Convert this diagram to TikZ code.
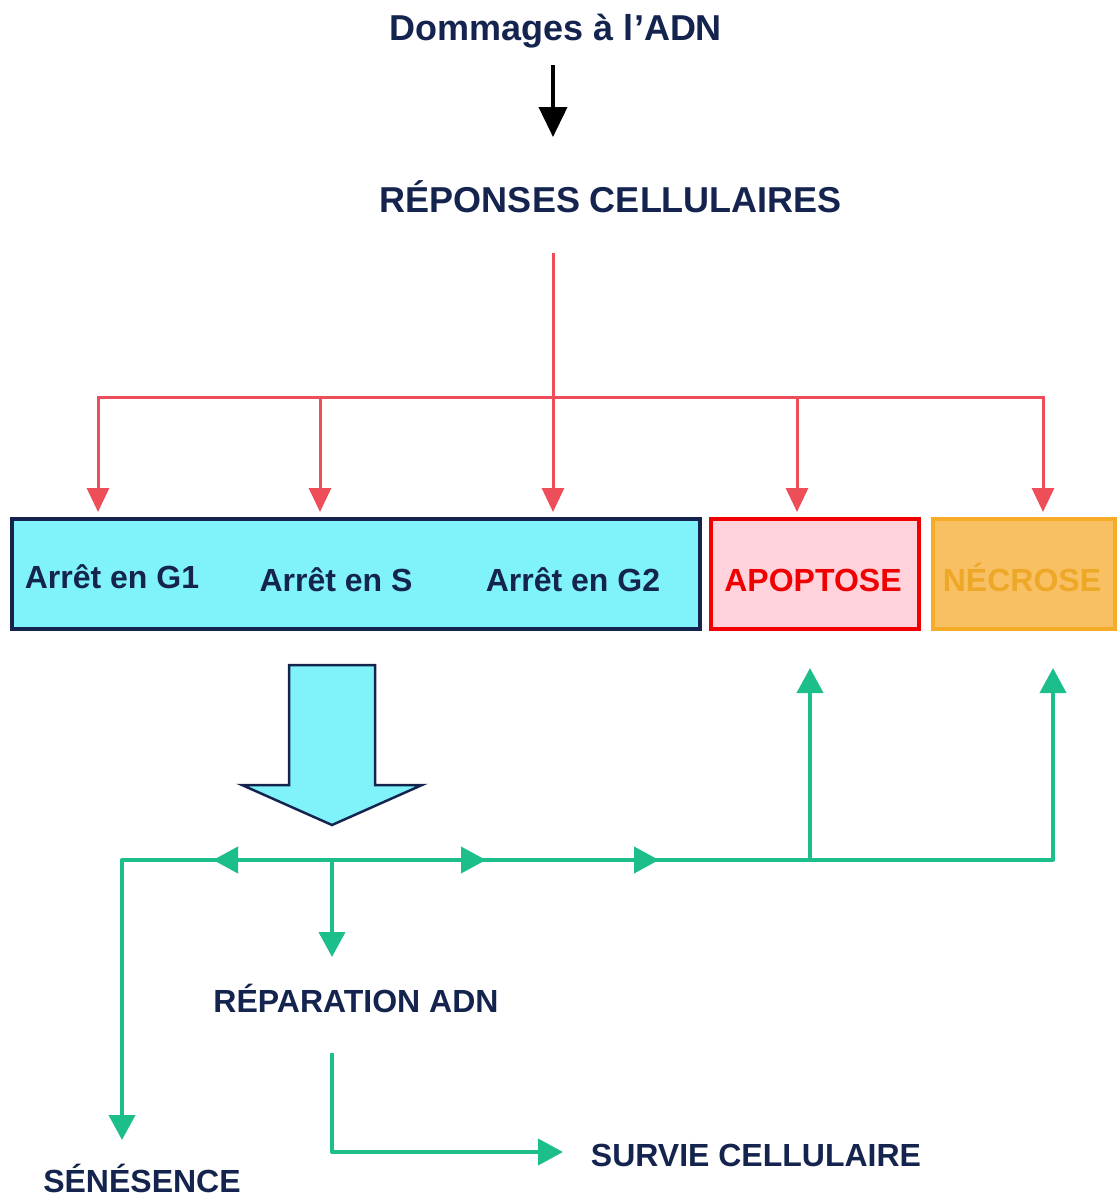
\documentclass[tikz,border=0pt]{standalone}
\usepackage{fontspec}
\setmainfont{Liberation Sans}
\usepackage{xcolor}
\usetikzlibrary{arrows.meta}
\definecolor{navy}{RGB}{20,36,78}
\definecolor{linered}{RGB}{238,78,90}
\definecolor{linegreen}{RGB}{28,190,140}
\definecolor{boxcyan}{RGB}{128,242,250}
\definecolor{boxpink}{RGB}{255,210,220}
\definecolor{boxred}{RGB}{240,0,0}
\definecolor{boxorange}{RGB}{246,172,40}
\definecolor{filorange}{RGB}{248,192,98}
\definecolor{txtorange}{RGB}{238,168,40}
\tikzset{%
  tipK/.tip={Triangle[width=28pt,length=30pt]},
  tipR/.tip={Triangle[width=22pt,length=24pt]},
  tipG/.tip={Triangle[width=26pt,length=25pt]},
  blackline/.style={draw=black, line width=4pt},
  redline/.style={draw=linered, line width=3pt},
  greenline/.style={draw=linegreen, line width=4pt, line join=round},
  title/.style={font=\bfseries\fontsize{36}{40}\selectfont, text=navy, anchor=base, inner sep=0pt},
  lbl/.style={font=\bfseries\fontsize{32}{36}\selectfont, text=navy, anchor=base, inner sep=0pt},
  cellbox/.style={line width=4pt, minimum height=110pt, inner sep=0pt}
}
\begin{document}
\begin{tikzpicture}[x=1pt,y=-1pt]
\useasboundingbox (0,0) rectangle (1117,1200);
% titles
\node[title] (dommages) at (556,40) {Dommages à l’ADN};
\node[title] (reponses) at (611,212) {RÉPONSES CELLULAIRES};
\coordinate (kstart) at (553,65);
\coordinate (kend) at (553,137);
\draw[blackline,-tipK] (kstart) -- (kend);
% boxes
\node[cellbox, draw=navy, fill=boxcyan, minimum width=688pt] (arrets) at (356,574) {};
\node[cellbox, draw=boxred, fill=boxpink, minimum width=208pt] (apoptose) at (815,574) {};
\node[cellbox, draw=boxorange, fill=filorange, minimum width=182pt] (necrose) at (1024,574) {};
\node[lbl] (g1) at (112,588) {Arrêt en G1};
\node[lbl] (s) at (336,591) {Arrêt en S};
\node[lbl] (g2) at (573,591) {Arrêt en G2};
\node[lbl, text=boxred] (apo) at (813,591) {APOPTOSE};
\node[lbl, text=txtorange] (nec) at (1022,591) {NÉCROSE};
% red branches
\coordinate (rstart) at (553,253);
\coordinate (hub) at (553,397);
\coordinate (tg1) at (98,512);
\coordinate (ts) at (320,512);
\coordinate (tg2) at (553,512);
\coordinate (tapo) at (797,512);
\coordinate (tnec) at (1043,512);
\draw[redline,-tipR] (rstart) -- (tg2);
\draw[redline,-tipR] (hub) -| (tg1);
\draw[redline,-tipR] (hub) -| (tnec);
\draw[redline,-tipR] (ts |- hub) -- (ts);
\draw[redline,-tipR] (tapo |- hub) -- (tapo);
% block arrow
\filldraw[draw=navy, fill=boxcyan, line width=2.5pt, line join=miter]
  (289,665) -- (375,665) -- (375,785) -- (422,785) -- (332,825) -- (242,785) -- (289,785) -- cycle;
% green lines
\coordinate (lcorner) at (122,860);
\coordinate (split) at (332,860);
\coordinate (mleft) at (213,860);
\coordinate (mright) at (486,860);
\coordinate (mright2) at (659,860);
\coordinate (jun) at (810,860);
\coordinate (rcorner) at (1053,860);
\coordinate (tsen) at (122,1140);
\coordinate (trep) at (332,957);
\coordinate (uapo) at (810,668);
\coordinate (unec) at (1053,668);
\coordinate (sstart) at (332,1053);
\coordinate (tsur) at (563,1152);
\draw[greenline] (lcorner) -- (rcorner);
\draw[greenline,-tipG] (split) -- (mleft);
\draw[greenline,-tipG] (split) -- (mright);
\draw[greenline,-tipG] (mright) -- (mright2);
\draw[greenline,-tipG] (mleft) -- (lcorner) -- (tsen);
\draw[greenline,-tipG] (split) -- (trep);
\draw[greenline,-tipG] (jun) -- (uapo);
\draw[greenline,-tipG] (jun) -- (rcorner) -- (unec);
\draw[greenline,-tipG] (sstart) |- (tsur);
% outcome labels
\node[lbl] (reparation) at (356,1012) {RÉPARATION ADN};
\node[lbl] (survie) at (756,1166) {SURVIE CELLULAIRE};
\node[lbl] (senesence) at (142,1192) {SÉNÉSENCE};
\end{tikzpicture}
\end{document}
